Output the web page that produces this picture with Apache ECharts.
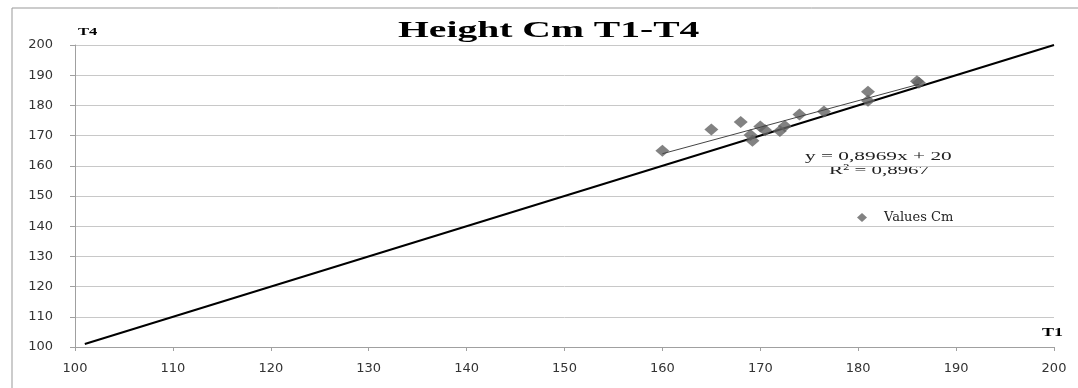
<!DOCTYPE html>
<html><head><meta charset="utf-8">
<script src="https://cdn.jsdelivr.net/npm/echarts@6/dist/echarts.min.js"></script>
<style>html,body{margin:0;padding:0;background:#fff}#c{width:1078px;height:388px}</style>
</head><body><div id="c"></div>
<script>
const title = 'Height Cm T1-T4';
const seriesName = 'Values Cm';
const xName = 'T1';
const yName = 'T4';
const t1 = [160, 165, 168, 169, 169.2, 170, 170.5, 172, 172.5, 174, 176.5, 181, 181, 186, 186.2];
const t4 = [165, 172, 174.5, 170.2, 168.3, 173, 171.8, 171.5, 173.2, 177, 178, 184.5, 181.5, 188, 187.5];
const diagonal = [[101, 101], [200, 200]];
const trend = [[160, 164], [186.2, 187]];
const equation = 'y = 0,8969x + 20';
const rSquared = 'R² = 0,8967';
const axisMin = 100, axisMax = 200, axisStep = 10;

const chart = echarts.init(document.getElementById('c'));
const serif = '"Liberation Serif"';
chart.setOption({
  animation: false,
  backgroundColor: '#fff',
  grid: { left: 75, right: 24, top: 45, bottom: 41 },
  legend: { data: [{ name: seriesName, icon: 'diamond' }], left: 852, top: 206, itemWidth: 10, itemHeight: 9, itemGap: 6,
    textStyle: { fontFamily: 'DejaVu Serif', fontSize: 13, color: '#222', padding: [0, 0, 0, 12] } },
  xAxis: { type: 'value', min: axisMin, max: axisMax, interval: axisStep,
    axisLine: { lineStyle: { color: '#a0a0a0' } }, axisTick: { show: true, length: 4, lineStyle: { color: '#a0a0a0' } },
    splitLine: { show: false },
    axisLabel: { fontFamily: 'DejaVu Sans', fontSize: 13, color: '#333', margin: 15 } },
  yAxis: { type: 'value', min: axisMin, max: axisMax, interval: axisStep,
    axisLine: { show: true, lineStyle: { color: '#a0a0a0' } }, axisTick: { show: true, length: 5, lineStyle: { color: '#a0a0a0' } },
    splitLine: { lineStyle: { color: '#c8c8c8' } },
    axisLabel: { fontFamily: 'DejaVu Sans', fontSize: 13, color: '#333', margin: 22 } },
  graphic: [
    { type: 'line', shape: { x1: 12, y1: 8, x2: 1078, y2: 8 }, style: { stroke: '#999', lineWidth: 1 } },
    { type: 'line', shape: { x1: 12, y1: 8, x2: 12, y2: 388 }, style: { stroke: '#999', lineWidth: 1 } },
    { type: 'text', x: 398, y: 31, scaleX: 1.65, style: { text: title, font: 'bold 24px ' + serif, fill: '#000', textVerticalAlign: 'middle' } },
    { type: 'text', x: 78, y: 32, scaleX: 1.5, style: { text: yName, font: 'bold 11px ' + serif, fill: '#000', textVerticalAlign: 'middle' } },
    { type: 'text', x: 1042, y: 333, scaleX: 1.5, style: { text: xName, font: 'bold 12px ' + serif, fill: '#000', textVerticalAlign: 'middle' } },
    { type: 'text', x: 805, y: 156, scaleX: 1.58, style: { text: equation, font: '13.5px ' + serif, fill: '#222', textVerticalAlign: 'middle' } },
    { type: 'text', x: 829, y: 170, scaleX: 1.55, style: { text: rSquared, font: '13.5px ' + serif, fill: '#222', textVerticalAlign: 'middle' } }
  ],
  series: [
    { type: 'line', data: diagonal, symbol: 'none', silent: true, lineStyle: { color: '#000', width: 2 }, z: 1 },
    { type: 'line', data: trend, symbol: 'none', silent: true, lineStyle: { color: '#444', width: 1 }, z: 3 },
    { name: seriesName, type: 'scatter', data: t1.map((x, i) => [x, t4[i]]), symbol: 'diamond', symbolSize: [14, 12],
      itemStyle: { color: '#636363' }, z: 2 }
  ]
});
</script></body></html>
